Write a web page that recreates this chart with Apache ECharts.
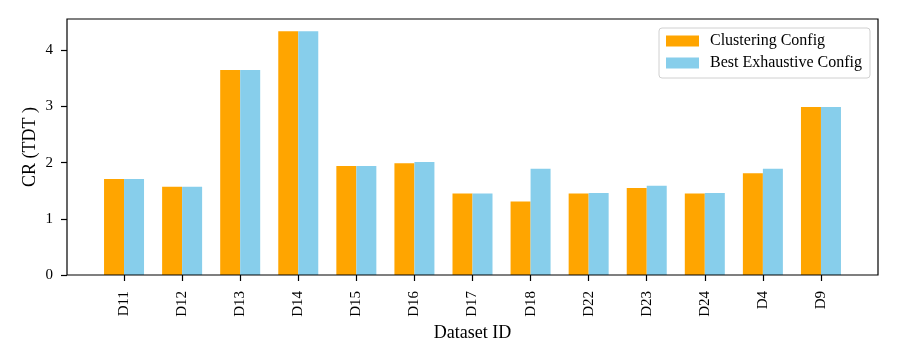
<!DOCTYPE html>
<html>
<head>
<meta charset="utf-8">
<script src="https://cdn.jsdelivr.net/npm/echarts@6/dist/echarts.min.js"></script>
<style>html,body{margin:0;padding:0;background:#fff}#c{width:898px;height:362px}</style>
</head>
<body>
<div id="c"></div>
<script>
const categories = ['D11','D12','D13','D14','D15','D16','D17','D18','D22','D23','D24','D4','D9'];
const clustering = [1.71,1.57,3.65,4.34,1.94,1.99,1.45,1.31,1.45,1.55,1.45,1.81,2.99];
const bestExhaustive = [1.71,1.57,3.65,4.34,1.94,2.01,1.45,1.89,1.46,1.59,1.46,1.89,2.99];
const yTicks = [0,1,2,3,4];
const yMax = 4.557;

const FONT = '"Liberation Serif", "DejaVu Serif", serif';
const chart = echarts.init(document.getElementById('c'), null, {renderer:'canvas'});
chart.setOption({
  animation:false,
  backgroundColor:'#fff',
  grid:[
    {left:67, right:20, top:19, bottom:87, show:true, borderColor:'#000', borderWidth:1.2, backgroundColor:'transparent', z:5},
    {left:95, right:48, top:19, bottom:87}
  ],
  legend:{
    data:['Clustering Config','Best Exhaustive Config'],
    orient:'vertical', left:659, top:28,
    itemWidth:33, itemHeight:11, itemGap:6,
    padding:[5,8,7,7],
    borderColor:'#d0d0d0', borderWidth:1, borderRadius:3, backgroundColor:'rgba(255,255,255,0.8)',
    textStyle:{fontFamily:FONT, fontSize:16, color:'#000', padding:[0,0,0,6]},
    icon:'rect'
  },
  xAxis:[
    {gridIndex:0, type:'value', min:0, max:1, show:false},
    {gridIndex:1, type:'category', data:categories,
     axisLine:{show:false},
     axisTick:{show:true, alignWithLabel:true, length:6, lineStyle:{color:'#000', width:1.2}},
     axisLabel:{rotate:90, fontFamily:FONT, fontSize:15, color:'#000', margin:16},
     name:'Dataset ID', nameLocation:'middle', nameGap:49, nameMoveOverlap:false,
     nameTextStyle:{fontFamily:FONT, fontSize:18, color:'#000'}}
  ],
  yAxis:[
    {gridIndex:0, type:'value', min:0, max:yMax,
     axisLine:{show:false},
     axisTick:{show:true, length:6, customValues:yTicks, lineStyle:{color:'#000', width:1.2}},
     axisLabel:{customValues:yTicks, fontFamily:FONT, fontSize:15, color:'#000', margin:14},
     splitLine:{show:false},
     name:'CR (TDT )', nameLocation:'middle', nameGap:28, nameMoveOverlap:false,
     nameTextStyle:{fontFamily:FONT, fontSize:18, color:'#000'}},
    {gridIndex:1, type:'value', min:0, max:yMax, show:false, splitLine:{show:false}}
  ],
  series:[
    {name:'Clustering Config', type:'bar', xAxisIndex:1, yAxisIndex:1, data:clustering,
     barWidth:20, barGap:'0%', itemStyle:{color:'#FFA500'}},
    {name:'Best Exhaustive Config', type:'bar', xAxisIndex:1, yAxisIndex:1, data:bestExhaustive,
     barWidth:20, barGap:'0%', itemStyle:{color:'#87CEEB'}}
  ]
});
</script>
</body>
</html>
